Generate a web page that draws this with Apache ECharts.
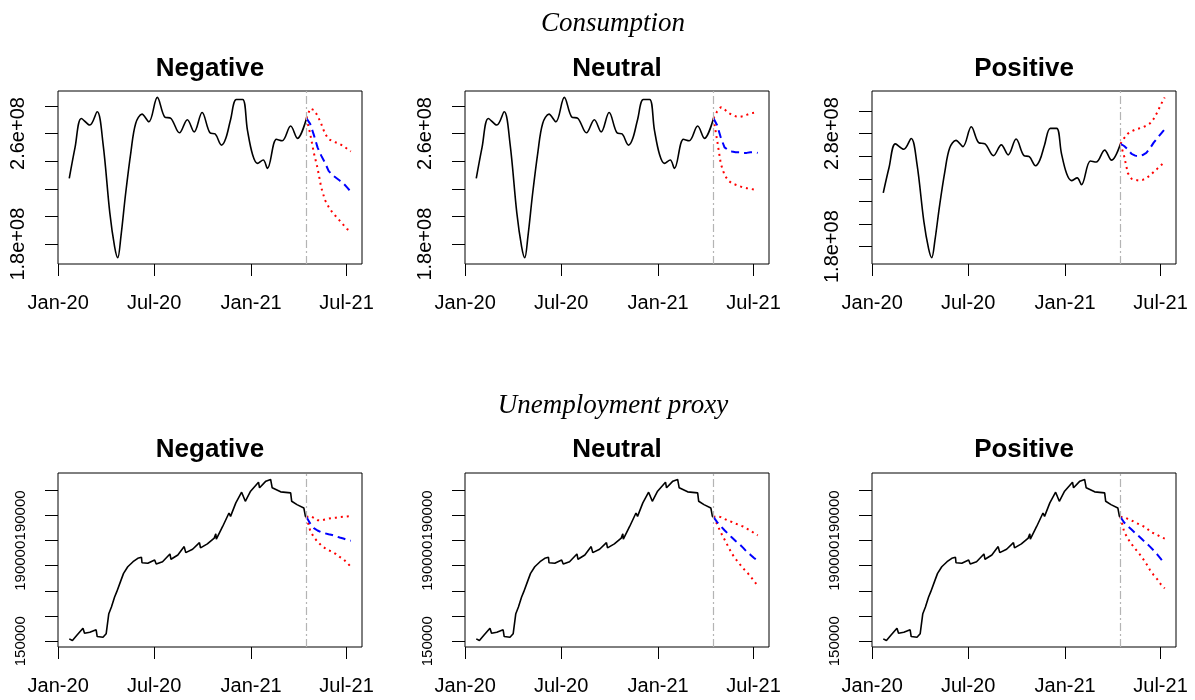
<!DOCTYPE html>
<html>
<head>
<meta charset="utf-8">
<script src="https://cdn.jsdelivr.net/npm/echarts@6/dist/echarts.min.js"></script>
<style>
  html, body { margin: 0; padding: 0; background: #ffffff; }
  #chart { width: 1195px; height: 700px; }
</style>
</head>
<body>
<div id="chart"></div>
<script>
// ---------------- data ----------------
const scenarios = ['Negative', 'Neutral', 'Positive'];
const rowTitles = ['Consumption', 'Unemployment proxy'];

const xTickDates = ['2020-01-01', '2020-07-01', '2021-01-01', '2021-07-01'];
const xTickLabels = ['Jan-20', 'Jul-20', 'Jan-21', 'Jul-21'];

// observed consumption
const consDates = [
  '2020-01-22', '2020-02-02', '2020-02-14', '2020-03-01', '2020-03-15', '2020-03-26',
  '2020-04-08', '2020-04-17', '2020-04-23', '2020-04-29', '2020-05-08', '2020-05-18',
  '2020-05-27', '2020-06-08', '2020-06-21', '2020-07-07', '2020-07-21', '2020-08-02',
  '2020-08-18', '2020-09-02', '2020-09-15', '2020-09-30', '2020-10-15', '2020-10-25',
  '2020-11-06', '2020-11-14', '2020-11-23', '2020-12-04', '2020-12-16', '2020-12-25',
  '2021-01-04', '2021-01-13', '2021-01-24', '2021-02-01', '2021-02-18', '2021-03-01',
  '2021-03-17', '2021-03-30', '2021-04-16'
];
const consValues = [
  2.276e8, 2.50e8, 2.709e8, 2.661e8, 2.757e8, 2.529e8,
  2.024e8, 1.783e8, 1.703e8, 1.855e8, 2.168e8, 2.468e8,
  2.673e8, 2.74e8, 2.685e8, 2.861e8, 2.72e8, 2.709e8,
  2.605e8, 2.70e8, 2.612e8, 2.752e8, 2.605e8, 2.596e8,
  2.516e8, 2.565e8, 2.70e8, 2.846e8, 2.846e8, 2.625e8,
  2.444e8, 2.384e8, 2.408e8, 2.348e8, 2.558e8, 2.548e8,
  2.654e8, 2.565e8, 2.709e8
];

// observed unemployment proxy
const unempDates = [
  '2020-01-22', '2020-01-28', '2020-02-05', '2020-02-17', '2020-02-20', '2020-03-01',
  '2020-03-13', '2020-03-15', '2020-03-26', '2020-04-01', '2020-04-06', '2020-04-11',
  '2020-04-17', '2020-04-21', '2020-04-28', '2020-05-04', '2020-05-12', '2020-05-22',
  '2020-05-31', '2020-06-07', '2020-06-08', '2020-06-19', '2020-07-02', '2020-07-05',
  '2020-07-17', '2020-07-31', '2020-08-02', '2020-08-15', '2020-08-27', '2020-08-30',
  '2020-09-12', '2020-09-25', '2020-09-27', '2020-10-10', '2020-10-23', '2020-10-26',
  '2020-10-27', '2020-11-08', '2020-11-20', '2020-11-23', '2020-12-03', '2020-12-14',
  '2020-12-21', '2020-12-31', '2021-01-15', '2021-01-17', '2021-01-29', '2021-02-07',
  '2021-02-10', '2021-02-26', '2021-03-17', '2021-03-19', '2021-03-29', '2021-04-11',
  '2021-04-14', '2021-04-16'
];
const unempValues = [
  150960, 150280, 152280, 155200, 153200, 153600,
  154560, 151880, 151600, 152960, 160960, 163600,
  167600, 169600, 173600, 176960, 179600, 181600,
  182960, 183360, 181200, 180960, 182280, 180680,
  181600, 184680, 182560, 184280, 187600, 185200,
  186560, 189200, 187080, 188680, 190960, 192680,
  190560, 195600, 200960, 199600, 204960, 209200,
  205600, 209600, 213200, 210960, 213600, 214280,
  210960, 209360, 208960, 205600, 204280, 202960,
  199600, 199360
];

// weekly forecast horizon
const fcDates = [
  '2021-04-16', '2021-04-23', '2021-04-30', '2021-05-07', '2021-05-14', '2021-05-21',
  '2021-05-28', '2021-06-04', '2021-06-11', '2021-06-18', '2021-06-25', '2021-07-02',
  '2021-07-09'
];

// consumption forecasts: mean, upper and lower band per scenario
const consMeanNeg  = [2.71e8, 2.67e8, 2.59e8, 2.50e8, 2.44e8, 2.39e8, 2.33e8, 2.30e8, 2.28e8, 2.26e8, 2.24e8, 2.21e8, 2.18e8];
const consUpperNeg = [2.71e8, 2.78e8, 2.77e8, 2.73e8, 2.67e8, 2.60e8, 2.56e8, 2.545e8, 2.535e8, 2.525e8, 2.51e8, 2.49e8, 2.47e8];
const consLowerNeg = [2.71e8, 2.60e8, 2.46e8, 2.35e8, 2.21e8, 2.12e8, 2.07e8, 2.03e8, 2.00e8, 1.97e8, 1.94e8, 1.91e8, 1.89e8];

const consMeanNeu  = [2.71e8, 2.66e8, 2.57e8, 2.50e8, 2.48e8, 2.47e8, 2.465e8, 2.465e8, 2.46e8, 2.46e8, 2.465e8, 2.465e8, 2.46e8];
const consUpperNeu = [2.71e8, 2.76e8, 2.79e8, 2.775e8, 2.75e8, 2.735e8, 2.725e8, 2.72e8, 2.725e8, 2.735e8, 2.745e8, 2.75e8, 2.755e8];
const consLowerNeu = [2.71e8, 2.55e8, 2.38e8, 2.30e8, 2.26e8, 2.24e8, 2.23e8, 2.22e8, 2.21e8, 2.205e8, 2.20e8, 2.195e8, 2.19e8];

const consMeanPos  = [2.71e8, 2.69e8, 2.66e8, 2.62e8, 2.605e8, 2.60e8, 2.61e8, 2.63e8, 2.67e8, 2.72e8, 2.76e8, 2.80e8, 2.84e8];
const consUpperPos = [2.71e8, 2.76e8, 2.80e8, 2.82e8, 2.835e8, 2.845e8, 2.855e8, 2.87e8, 2.89e8, 2.93e8, 2.99e8, 3.06e8, 3.12e8];
const consLowerPos = [2.71e8, 2.60e8, 2.45e8, 2.40e8, 2.39e8, 2.385e8, 2.39e8, 2.405e8, 2.43e8, 2.46e8, 2.49e8, 2.52e8, 2.55e8];

// unemployment proxy forecasts
const unempMeanNeg  = [199360, 196800, 194960, 194000, 193300, 192900, 192500, 192200, 191700, 191200, 190800, 190300, 189900];
const unempUpperNeg = [199360, 199800, 199000, 198100, 198000, 198400, 198700, 198960, 199100, 199300, 199450, 199600, 199700];
const unempLowerNeg = [199360, 194000, 191300, 189600, 188100, 187000, 186100, 185600, 184600, 183500, 182600, 181200, 179600];

const unempMeanNeu  = [199360, 197300, 195700, 194100, 192600, 191200, 189800, 188600, 187200, 185600, 184400, 183100, 181900];
const unempUpperNeu = [199360, 199700, 199300, 198600, 197900, 197400, 196700, 196200, 195600, 194800, 194000, 193000, 192100];
const unempLowerNeu = [199360, 196400, 193200, 190400, 187600, 184800, 182700, 180900, 179000, 177600, 175800, 173900, 172000];

const unempMeanPos  = [199360, 197200, 195700, 194400, 193000, 191700, 190300, 189000, 187600, 186100, 184400, 182600, 180700];
const unempUpperPos = [199360, 199300, 198600, 198000, 197200, 196500, 195800, 195100, 193600, 192900, 192200, 191400, 190800];
const unempLowerPos = [199360, 193500, 190800, 188600, 186700, 185000, 183000, 180800, 178300, 176300, 174600, 172500, 171000];

// y tick values and the labels printed next to them
const consTicksA  = [1.8e8, 2.0e8, 2.2e8, 2.4e8, 2.6e8, 2.8e8];
const consLabelsA = ['1.8e+08', '', '', '', '2.6e+08', ''];
const consTicksB  = [1.8e8, 2.0e8, 2.2e8, 2.4e8, 2.6e8, 2.8e8, 3.0e8];
const consLabelsB = ['1.8e+08', '', '', '', '', '2.8e+08', ''];
const unempTicks  = [150000, 160000, 170000, 180000, 190000, 200000, 210000];
const unempLabels = ['150000', '', '', '190000', '', '190000', ''];

// ---------------- layout ----------------
const gridLefts = [58, 465, 872];
const gridWidth = 304;
const gridTops = [91, 473];
const gridHeights = [173, 174];
const titleTops = [56, 437];
const rowTitleTops = [10, 392];

const FONT = 'Liberation Sans, Arial, sans-serif';

function ts(d) {
  const p = d.split('-').map(Number);
  return Date.UTC(p[0], p[1] - 1, p[2]);
}
function pairs(dates, vals) {
  return dates.map((d, i) => [ts(d), vals[i]]);
}
// R-style 4% padding around the data range
function padRange(lo, hi) {
  const s = (hi - lo) * 0.04;
  return [lo - s, hi + s];
}

const panels = [
  { hist: [consDates, consValues], fc: [consMeanNeg, consUpperNeg, consLowerNeg], ticks: consTicksA, labels: consLabelsA, smooth: true, yFont: 20 },
  { hist: [consDates, consValues], fc: [consMeanNeu, consUpperNeu, consLowerNeu], ticks: consTicksA, labels: consLabelsA, smooth: true, yFont: 20 },
  { hist: [consDates, consValues], fc: [consMeanPos, consUpperPos, consLowerPos], ticks: consTicksB, labels: consLabelsB, smooth: true, yFont: 20 },
  { hist: [unempDates, unempValues], fc: [unempMeanNeg, unempUpperNeg, unempLowerNeg], ticks: unempTicks, labels: unempLabels, smooth: false, yFont: 15 },
  { hist: [unempDates, unempValues], fc: [unempMeanNeu, unempUpperNeu, unempLowerNeu], ticks: unempTicks, labels: unempLabels, smooth: false, yFont: 15 },
  { hist: [unempDates, unempValues], fc: [unempMeanPos, unempUpperPos, unempLowerPos], ticks: unempTicks, labels: unempLabels, smooth: false, yFont: 15 }
];

const xRange = padRange(ts(consDates[0]), ts(fcDates[fcDates.length - 1]));
const xTickValues = xTickDates.map(ts);
const forecastStart = ts(fcDates[0]);

const grids = [], xAxes = [], yAxes = [], series = [], titles = [];

panels.forEach((p, i) => {
  const row = Math.floor(i / 3), col = i % 3;
  grids.push({
    left: gridLefts[col], top: gridTops[row], width: gridWidth, height: gridHeights[row],
    show: true, borderColor: '#000', borderWidth: 1, backgroundColor: 'transparent',
    outerBoundsMode: 'none'
  });

  // dates are plotted as millisecond timestamps on a linear axis
  xAxes.push({
    type: 'value', gridIndex: i, min: xRange[0], max: xRange[1], scale: true,
    axisLine: { show: false },
    splitLine: { show: false },
    axisTick: { show: true, inside: false, length: 12, customValues: xTickValues,
      lineStyle: { color: '#000', width: 1 } },
    axisLabel: {
      show: true, customValues: xTickValues, margin: 29, hideOverlap: false,
      color: '#000', fontFamily: FONT, fontSize: 20,
      formatter: v => {
        const k = xTickValues.findIndex(t => Math.abs(t - v) < 1000);
        return k >= 0 ? xTickLabels[k] : '';
      }
    }
  });

  const allVals = p.hist[1].concat(p.fc[0], p.fc[1], p.fc[2]);
  const yr = padRange(Math.min(...allVals), Math.max(...allVals));
  const labelled = p.ticks.filter((t, k) => p.labels[k] !== '');
  yAxes.push({
    type: 'value', gridIndex: i, min: yr[0], max: yr[1], scale: true,
    axisLine: { show: false },
    splitLine: { show: false },
    axisTick: { show: true, inside: false, length: 13, customValues: p.ticks,
      lineStyle: { color: '#000', width: 1 } },
    axisLabel: {
      show: true, customValues: labelled, rotate: 90, margin: 30, hideOverlap: false,
      color: '#000', fontFamily: FONT, fontSize: p.yFont,
      formatter: v => {
        const k = p.ticks.findIndex(t => Math.abs(t - v) < 1e-6 * Math.abs(t));
        return k >= 0 ? p.labels[k] : '';
      }
    }
  });

  series.push({
    type: 'line', xAxisIndex: i, yAxisIndex: i,
    data: pairs(p.hist[0], p.hist[1]),
    showSymbol: false, smooth: p.smooth ? 0.35 : false,
    lineStyle: { color: '#000', width: 1.6 },
    markLine: {
      silent: true, symbol: ['none', 'none'], label: { show: false },
      lineStyle: { color: '#b4b4b4', type: [8, 3, 2, 3], width: 1.2 },
      data: [{ xAxis: forecastStart }]
    },
    z: 2
  });
  const bands = [
    { vals: p.fc[1], color: '#ff0000', type: [2, 4] },
    { vals: p.fc[2], color: '#ff0000', type: [2, 4] },
    { vals: p.fc[0], color: '#0000ff', type: [8, 5] }
  ];
  bands.forEach(b => {
    series.push({
      type: 'line', xAxisIndex: i, yAxisIndex: i,
      data: pairs(fcDates, b.vals),
      showSymbol: false, smooth: false,
      lineStyle: { color: b.color, width: 2, type: b.type },
      z: 3
    });
  });

  titles.push({
    text: scenarios[col], left: gridLefts[col] + gridWidth / 2, top: titleTops[row],
    textAlign: 'center', padding: 0,
    textStyle: { fontFamily: FONT, fontSize: 26, fontWeight: 'bold', color: '#000' }
  });
});

rowTitles.forEach((t, r) => {
  titles.push({
    text: t, left: 613, top: rowTitleTops[r], textAlign: 'center', padding: 0,
    textStyle: { fontFamily: 'Liberation Serif, Times New Roman, serif', fontStyle: 'italic',
      fontWeight: 'normal', fontSize: 27, color: '#000' }
  });
});

const chart = echarts.init(document.getElementById('chart'), null, { renderer: 'canvas' });
chart.setOption({
  backgroundColor: '#ffffff',
  animation: false,
  title: titles,
  grid: grids,
  xAxis: xAxes,
  yAxis: yAxes,
  series: series
});
</script>
</body>
</html>
